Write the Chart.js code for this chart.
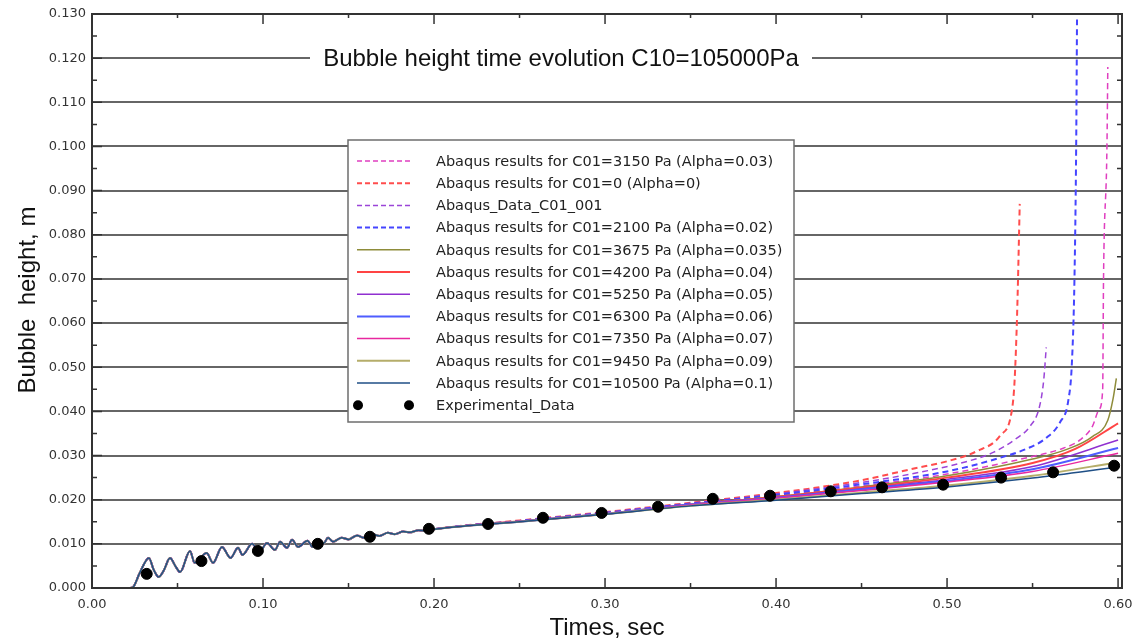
<!DOCTYPE html>
<html>
<head>
<meta charset="utf-8">
<title>Bubble height time evolution</title>
<script src="https://cdn.jsdelivr.net/npm/chart.js@4.4.1/dist/chart.umd.min.js"></script>
<style>
  html, body { margin: 0; padding: 0; background: #fff; }
  canvas { display: block; }
</style>
</head>
<body>
<canvas id="bubbleChart" width="1136" height="644"></canvas>
<script>
// Axis ticks
const xTicks = [0, 0.1, 0.2, 0.3, 0.4, 0.5, 0.6];
const xMinorTicks = [0.05, 0.15, 0.25, 0.35, 0.45, 0.55];
const yTicks = [0, 0.01, 0.02, 0.03, 0.04, 0.05, 0.06, 0.07, 0.08, 0.09, 0.10, 0.11, 0.12, 0.13];
const yMinorTicks = [0.005, 0.015, 0.025, 0.035, 0.045, 0.055, 0.065, 0.075, 0.085, 0.095, 0.105, 0.115, 0.125];

// Start of the run (0 - 0.2 s), all simulations overlap here
const earlyT = [0, 0.022, 0.024, 0.028, 0.0333, 0.036, 0.039, 0.042, 0.0456, 0.049, 0.0515, 0.0573, 0.060, 0.067,
  0.0708, 0.076, 0.081, 0.0854, 0.088, 0.0936, 0.098, 0.1023, 0.107, 0.110, 0.114, 0.117, 0.1205, 0.126, 0.129,
  0.133, 0.1355, 0.138, 0.141, 0.146, 0.150, 0.155, 0.159, 0.164, 0.168, 0.173, 0.177, 0.182, 0.186, 0.191, 0.195, 0.200];
const earlyH = [0, 0, 0.0002, 0.0035, 0.0068, 0.0042, 0.0025, 0.0040, 0.0068, 0.0048, 0.0036, 0.0084, 0.0057, 0.0079,
  0.0057, 0.0093, 0.0068, 0.0091, 0.0075, 0.0100, 0.0082, 0.0102, 0.0086, 0.0105, 0.0091, 0.0109, 0.0093, 0.0107, 0.0093,
  0.0109, 0.0101, 0.0114, 0.0105, 0.0114, 0.0110, 0.0119, 0.0114, 0.0122, 0.0118, 0.0125, 0.0122, 0.0128, 0.0126, 0.0131, 0.0129, 0.0133];

// Tails after 0.2 s
const c3150T = [0.25, 0.30, 0.35, 0.40, 0.45, 0.50, 0.55, 0.566, 0.578, 0.585, 0.589, 0.591, 0.5915, 0.5935, 0.594];
const c3150H = [0.0151, 0.0169, 0.0190, 0.0209, 0.0231, 0.0258, 0.0298, 0.0314, 0.0336, 0.0366, 0.0405, 0.0450, 0.0700, 0.1000, 0.1180];
const c0T = [0.25, 0.30, 0.35, 0.40, 0.43, 0.45, 0.48, 0.50, 0.5175, 0.531, 0.538, 0.5395, 0.541, 0.5425];
const c0H = [0.0153, 0.0172, 0.0193, 0.0215, 0.0231, 0.0244, 0.0270, 0.0287, 0.0310, 0.0345, 0.0405, 0.0470, 0.0625, 0.0870];
const c001T = [0.25, 0.30, 0.35, 0.40, 0.45, 0.484, 0.512, 0.527, 0.541, 0.5485, 0.554, 0.5565, 0.558];
const c001H = [0.0152, 0.0171, 0.0192, 0.0213, 0.0239, 0.0262, 0.0287, 0.0307, 0.0340, 0.0366, 0.0410, 0.0470, 0.0545];
const c2100T = [0.25, 0.30, 0.35, 0.40, 0.45, 0.50, 0.531, 0.547, 0.558, 0.566, 0.571, 0.573, 0.5745, 0.5755, 0.576];
const c2100H = [0.0152, 0.0170, 0.0191, 0.0211, 0.0235, 0.0264, 0.0295, 0.0316, 0.0340, 0.0375, 0.0427, 0.0510, 0.0700, 0.1000, 0.1290];
const c3675T = [0.25, 0.30, 0.35, 0.40, 0.45, 0.50, 0.55, 0.57, 0.585, 0.594, 0.597, 0.599];
const c3675H = [0.0151, 0.0168, 0.0189, 0.0207, 0.0229, 0.0254, 0.0292, 0.0314, 0.0343, 0.0380, 0.0427, 0.0475];
const c4200T = [0.25, 0.30, 0.35, 0.40, 0.45, 0.50, 0.55, 0.575, 0.60];
const c4200H = [0.0151, 0.0168, 0.0189, 0.0206, 0.0227, 0.0250, 0.0283, 0.0315, 0.0373];
const c5250T = [0.25, 0.30, 0.35, 0.40, 0.45, 0.50, 0.55, 0.60];
const c5250H = [0.0151, 0.0168, 0.0188, 0.0205, 0.0225, 0.0246, 0.0275, 0.0335];
const c6300T = [0.25, 0.30, 0.35, 0.40, 0.45, 0.50, 0.55, 0.60];
const c6300H = [0.0150, 0.0168, 0.0189, 0.0204, 0.0223, 0.0243, 0.0269, 0.0317];
const c7350T = [0.25, 0.30, 0.35, 0.40, 0.45, 0.50, 0.55, 0.60];
const c7350H = [0.0150, 0.0167, 0.0188, 0.0203, 0.0221, 0.0240, 0.0264, 0.0305];
const c9450T = [0.25, 0.30, 0.35, 0.40, 0.45, 0.50, 0.55, 0.60];
const c9450H = [0.0150, 0.0167, 0.0186, 0.0200, 0.0216, 0.0232, 0.0254, 0.0285];
const c10500T = [0.25, 0.30, 0.35, 0.40, 0.45, 0.50, 0.55, 0.60];
const c10500H = [0.0150, 0.0167, 0.0186, 0.0199, 0.0214, 0.0229, 0.0249, 0.0274];

// Experimental measurements
const expT = [0.032, 0.064, 0.097, 0.132, 0.1625, 0.197, 0.2316, 0.2637, 0.298, 0.331, 0.363, 0.3965, 0.432, 0.462, 0.4977, 0.5316, 0.562, 0.5977];
const expH = [0.0032, 0.0061, 0.0084, 0.0100, 0.0116, 0.0134, 0.0145, 0.0159, 0.0170, 0.0184, 0.0202, 0.0209, 0.0219, 0.0228, 0.0234, 0.0250, 0.0262, 0.0277];

function curve(label, tailT, tailH, color, width, dash, order) {
    const t = earlyT.concat(tailT);
    const h = earlyH.concat(tailH);
    return {
        label: label,
        data: t.map((v, i) => ({ x: v, y: h[i] })),
        borderColor: color,
        borderWidth: width,
        borderDash: dash,
        pointRadius: 0,
        fill: false,
        order: order
    };
}

const dashed = [6, 4];
const datasets = [
    curve('Abaqus results for C01=3150 Pa (Alpha=0.03)', c3150T, c3150H, '#e03fc0', 1.5, dashed, 11),
    curve('Abaqus results for C01=0 (Alpha=0)', c0T, c0H, '#ff4d4d', 2, dashed, 10),
    curve('Abaqus_Data_C01_001', c001T, c001H, '#9b45d8', 1.5, dashed, 9),
    curve('Abaqus results for C01=2100 Pa (Alpha=0.02)', c2100T, c2100H, '#4545ff', 2, dashed, 8),
    curve('Abaqus results for C01=3675 Pa (Alpha=0.035)', c3675T, c3675H, '#8e8c3a', 1.5, [], 7),
    curve('Abaqus results for C01=4200 Pa (Alpha=0.04)', c4200T, c4200H, '#ff4444', 2, [], 6),
    curve('Abaqus results for C01=5250 Pa (Alpha=0.05)', c5250T, c5250H, '#9030d0', 1.5, [], 5),
    curve('Abaqus results for C01=6300 Pa (Alpha=0.06)', c6300T, c6300H, '#4f5dff', 2, [], 4),
    curve('Abaqus results for C01=7350 Pa (Alpha=0.07)', c7350T, c7350H, '#e8279f', 1.5, [], 3),
    curve('Abaqus results for C01=9450 Pa (Alpha=0.09)', c9450T, c9450H, '#b5ad6a', 2, [], 2),
    curve('Abaqus results for C01=10500 Pa (Alpha=0.1)', c10500T, c10500H, '#1f4f86', 1.5, [], 1),
    {
        label: 'Experimental_Data',
        data: expT.map((v, i) => ({ x: v, y: expH[i] })),
        showLine: false,
        pointRadius: 5.5,
        pointStyle: 'circle',
        pointBackgroundColor: '#000',
        pointBorderColor: '#000',
        borderColor: '#000',
        order: 0
    }
];

// frame, inward ticks, titles and the boxed legend
const decorations = {
    id: 'decorations',
    afterDraw(chart) {
        const { ctx, chartArea: a, scales: { x, y } } = chart;
        ctx.save();

        // title over the 0.120 gridline
        const ty = y.getPixelForValue(0.12);
        ctx.fillStyle = '#fff';
        ctx.fillRect(310, ty - 13, 502, 26);
        ctx.fillStyle = '#111';
        ctx.font = '24px "Liberation Sans", Arial, sans-serif';
        ctx.textAlign = 'center';
        ctx.textBaseline = 'middle';
        ctx.fillText('Bubble height time evolution C10=105000Pa', 561, ty + 1);

        // frame
        ctx.strokeStyle = '#333';
        ctx.lineWidth = 2;
        ctx.strokeRect(a.left, a.top, a.right - a.left, a.bottom - a.top);

        // inward ticks
        ctx.lineWidth = 1.5;
        ctx.beginPath();
        xTicks.forEach(v => {
            const px = x.getPixelForValue(v);
            ctx.moveTo(px, a.bottom); ctx.lineTo(px, a.bottom - 10);
            ctx.moveTo(px, a.top); ctx.lineTo(px, a.top + 10);
        });
        xMinorTicks.forEach(v => {
            const px = x.getPixelForValue(v);
            ctx.moveTo(px, a.bottom); ctx.lineTo(px, a.bottom - 5);
            ctx.moveTo(px, a.top); ctx.lineTo(px, a.top + 4);
        });
        yTicks.forEach(v => {
            const py = y.getPixelForValue(v);
            ctx.moveTo(a.left, py); ctx.lineTo(a.left + 10, py);
        });
        yMinorTicks.forEach(v => {
            const py = y.getPixelForValue(v);
            ctx.moveTo(a.left, py); ctx.lineTo(a.left + 5, py);
            ctx.moveTo(a.right, py); ctx.lineTo(a.right - 5, py);
        });
        ctx.stroke();

        // axis titles
        ctx.fillStyle = '#111';
        ctx.font = '24px "Liberation Sans", Arial, sans-serif';
        ctx.fillText('Times, sec', (a.left + a.right) / 2, 628);
        ctx.save();
        ctx.translate(28, 300);
        ctx.rotate(-Math.PI / 2);
        ctx.fillText('Bubble  height, m', 0, 0);
        ctx.restore();

        // legend box
        const lx = 348, ltop = 140, lw = 446, lh = 282;
        ctx.fillStyle = '#fff';
        ctx.fillRect(lx, ltop, lw, lh);
        ctx.strokeStyle = '#6e6e6e';
        ctx.lineWidth = 1.5;
        ctx.strokeRect(lx, ltop, lw, lh);
        ctx.font = '14.5px "DejaVu Sans", Verdana, sans-serif';
        ctx.textAlign = 'left';
        chart.data.datasets.forEach((ds, i) => {
            const ry = 161 + i * 22.2;
            if (ds.showLine === false) {
                ctx.fillStyle = '#000';
                [358, 409].forEach(cx => {
                    ctx.beginPath();
                    ctx.arc(cx, ry, 5, 0, Math.PI * 2);
                    ctx.fill();
                });
            } else {
                ctx.strokeStyle = ds.borderColor;
                ctx.lineWidth = ds.borderWidth;
                ctx.setLineDash(ds.borderDash.length ? [5, 3] : []);
                ctx.beginPath();
                ctx.moveTo(357, ry);
                ctx.lineTo(410, ry);
                ctx.stroke();
                ctx.setLineDash([]);
            }
            ctx.fillStyle = '#222';
            ctx.fillText(ds.label, 436, ry + 1);
        });

        ctx.restore();
    }
};

const tickFont = { family: '"DejaVu Sans", Verdana, sans-serif', size: 13 };

new Chart(document.getElementById('bubbleChart').getContext('2d'), {
    type: 'line',
    data: { datasets: datasets },
    options: {
        responsive: false,
        animation: false,
        layout: { padding: { top: 14, right: 14, left: 0, bottom: 0 } },
        elements: { line: { cubicInterpolationMode: 'monotone' } },
        plugins: {
            legend: { display: false },
            tooltip: { enabled: false }
        },
        scales: {
            x: {
                type: 'linear',
                min: 0,
                max: 0.6023,
                afterBuildTicks: s => { s.ticks = xTicks.map(v => ({ value: v })); },
                afterFit: s => { s.height = 56; s.paddingLeft = 0; s.paddingRight = 0; },
                grid: { display: false, drawTicks: false },
                border: { display: false },
                ticks: {
                    padding: 9,
                    color: '#333',
                    font: tickFont,
                    maxRotation: 0,
                    autoSkip: false,
                    callback: v => v.toFixed(2)
                }
            },
            y: {
                type: 'linear',
                min: 0,
                max: 0.13,
                afterBuildTicks: s => { s.ticks = yTicks.map(v => ({ value: v })); },
                afterFit: s => { s.width = 92; s.paddingTop = 0; s.paddingBottom = 0; },
                grid: { color: '#666', lineWidth: 2, drawTicks: false },
                border: { display: false },
                ticks: {
                    padding: 6,
                    color: '#333',
                    font: tickFont,
                    autoSkip: false,
                    callback: v => v.toFixed(3)
                }
            }
        }
    },
    plugins: [decorations]
});
</script>
</body>
</html>
